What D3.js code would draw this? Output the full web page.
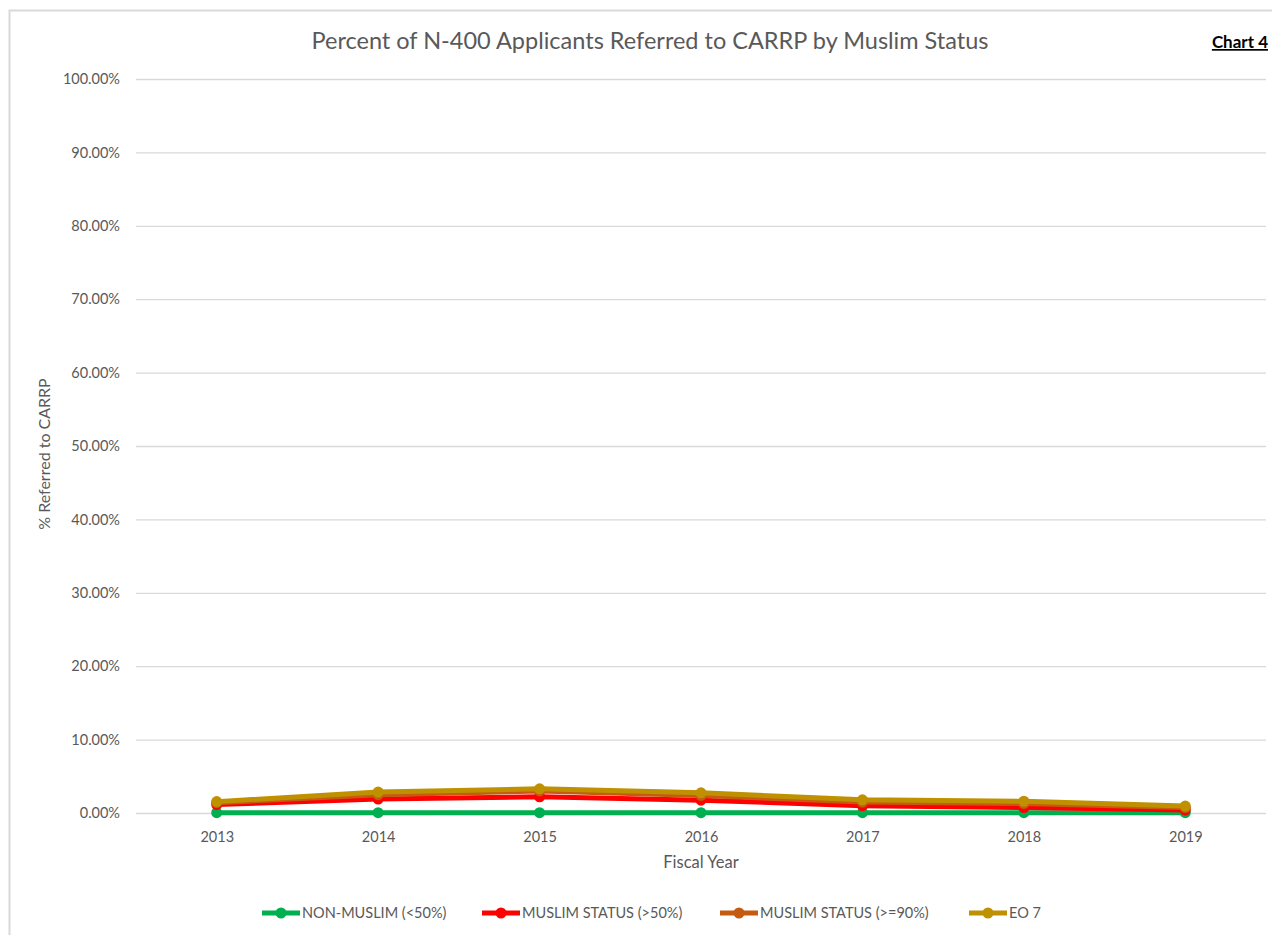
<!DOCTYPE html>
<html>
<head>
<meta charset="utf-8">
<script src="https://cdn.jsdelivr.net/npm/d3@7"></script>
<style>
  body { margin: 0; background: #fff; }
  svg { display: block; }
</style>
</head>
<body>
<script>
// chart data
const years = ["2013", "2014", "2015", "2016", "2017", "2018", "2019"];
const nonMuslim = [0.05, 0.05, 0.05, 0.05, 0.05, 0.05, 0.04];
const muslim50 = [1.15, 1.9, 2.2, 1.75, 1.0, 0.75, 0.4];
const muslim90 = [1.4, 2.5, 3.0, 2.4, 1.5, 1.3, 0.75];
const eo7 = [1.55, 2.85, 3.3, 2.75, 1.8, 1.6, 0.95];
const yTicks = [0, 10, 20, 30, 40, 50, 60, 70, 80, 90, 100];

const series = [
  { name: "NON-MUSLIM (<50%)", values: nonMuslim, color: "#00B050" },
  { name: "MUSLIM STATUS (>50%)", values: muslim50, color: "#FF0000" },
  { name: "MUSLIM STATUS (>=90%)", values: muslim90, color: "#C55A11" },
  { name: "EO 7", values: eo7, color: "#BF9000" }
];

const width = 1272;
const height = 935;
const font = "Lato, 'Open Sans', sans-serif";
const grey = "#595959";

const svg = d3.select("body").append("svg")
  .attr("width", width)
  .attr("height", height);

// outer frame (only left and top edges visible)
svg.append("rect")
  .attr("x", 9.5).attr("y", 10.5)
  .attr("width", width + 20).attr("height", height + 20)
  .attr("fill", "none")
  .attr("stroke", "#d9d9d9")
  .attr("stroke-width", 2);

const plot = { left: 136, right: 1266, top: 79, bottom: 813 };

const x = d3.scalePoint()
  .domain(years)
  .range([plot.left, plot.right])
  .padding(0.5);

const y = d3.scaleLinear()
  .domain([0, 100])
  .range([plot.bottom, plot.top]);

// gridlines + y labels
const yAxis = svg.append("g")
  .attr("transform", `translate(${plot.left},0)`)
  .call(d3.axisLeft(y).tickValues(yTicks).tickSize(-(plot.right - plot.left))
    .tickPadding(16).tickFormat(d => d.toFixed(2) + "%"));
yAxis.select(".domain").remove();
yAxis.selectAll("line").attr("stroke", "#d9d9d9").attr("stroke-width", 1.3);
yAxis.selectAll("text")
  .attr("fill", grey).style("font-family", font).style("font-size", "14.5px");

// x labels
const xAxis = svg.append("g")
  .attr("transform", `translate(0,${plot.bottom})`)
  .call(d3.axisBottom(x).tickSize(0).tickPadding(19));
xAxis.select(".domain").remove();
xAxis.selectAll("text")
  .attr("fill", grey).style("font-family", font).style("font-size", "14.5px");

// lines
const line = d3.line()
  .x((d, i) => x(years[i]))
  .y(d => y(d));

series.forEach(s => {
  const g = svg.append("g");
  g.append("path")
    .datum(s.values)
    .attr("d", line)
    .attr("fill", "none")
    .attr("stroke", s.color)
    .attr("stroke-width", 5)
    .attr("stroke-linejoin", "round");
  g.selectAll("circle")
    .data(s.values)
    .enter().append("circle")
    .attr("cx", (d, i) => x(years[i]))
    .attr("cy", d => y(d))
    .attr("r", 5.5)
    .attr("fill", s.color);
});

// title
svg.append("text")
  .attr("x", 650).attr("y", 49)
  .attr("text-anchor", "middle")
  .attr("fill", grey)
  .style("font-family", font)
  .style("font-size", "23.5px")
  .text("Percent of N-400 Applicants Referred to CARRP by Muslim Status");

svg.append("text")
  .attr("x", 1268).attr("y", 48)
  .attr("text-anchor", "end")
  .attr("fill", "#000")
  .style("font-family", "Lato, sans-serif")
  .style("font-weight", "bold")
  .style("font-size", "17px")
  .style("text-decoration", "underline")
  .text("Chart 4");

// axis titles
svg.append("text")
  .attr("transform", `translate(50,${(plot.top + plot.bottom) / 2 + 8}) rotate(-90)`)
  .attr("text-anchor", "middle")
  .attr("fill", grey)
  .style("font-family", font)
  .style("font-size", "16px")
  .text("% Referred to CARRP");

svg.append("text")
  .attr("x", x("2016")).attr("y", 868)
  .attr("text-anchor", "middle")
  .attr("fill", grey)
  .style("font-family", font)
  .style("font-size", "16.5px")
  .text("Fiscal Year");

// legend
const legendX = [262, 482, 720, 969];
const legend = svg.append("g");
series.forEach((s, i) => {
  const g = legend.append("g").attr("transform", `translate(${legendX[i]},913)`);
  g.append("line")
    .attr("x1", 0).attr("x2", 38)
    .attr("stroke", s.color).attr("stroke-width", 5);
  g.append("circle").attr("cx", 19).attr("r", 5.5).attr("fill", s.color);
  g.append("text")
    .attr("x", 40).attr("y", 5)
    .attr("fill", grey)
    .style("font-family", font)
    .style("font-size", "14.5px")
    .text(s.name);
});
</script>
</body>
</html>
